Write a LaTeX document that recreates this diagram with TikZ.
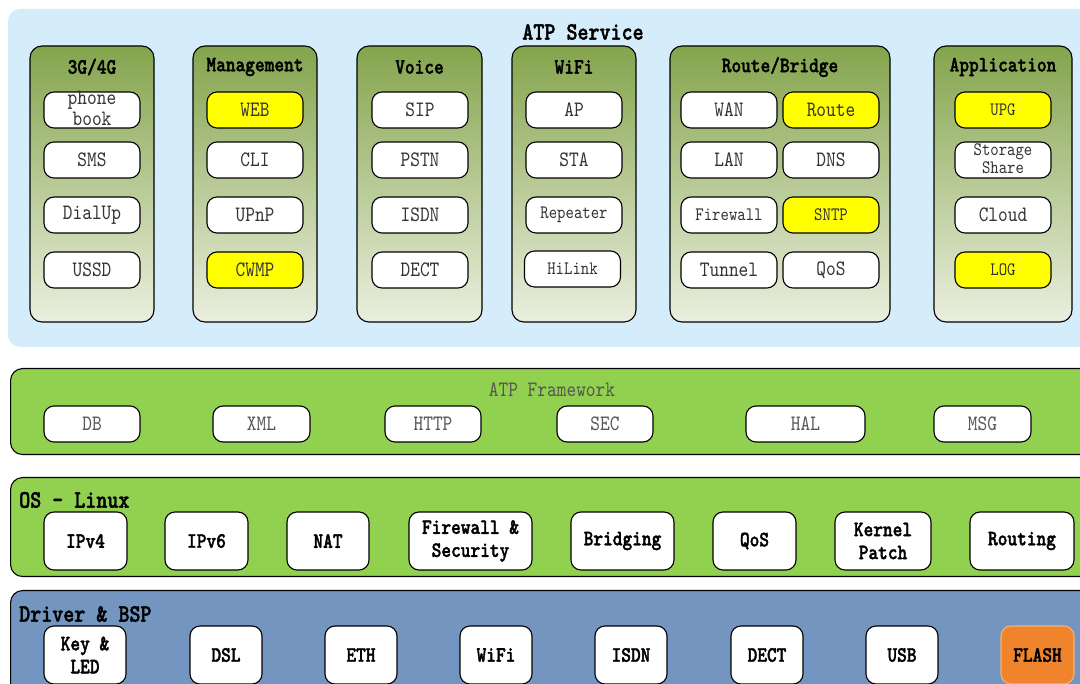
\documentclass[tikz,border=0pt]{standalone}
\usepackage{fontspec}
\newfontfamily\dfont[BoldFont=lmmonolt10-bold.otf, BoldFeatures={FakeBold=1.6}, FakeStretch=0.84]{lmmono10-regular.otf}
\definecolor{svcbg}{HTML}{D5ECFB}
\definecolor{paneltop}{HTML}{84A44C}
\definecolor{panelbot}{HTML}{EBEFDF}
\definecolor{barGreen}{HTML}{92D050}
\definecolor{barBlue}{HTML}{7395C0}
\definecolor{hlyellow}{HTML}{FFFF00}
\definecolor{flashfill}{HTML}{F0842C}
\definecolor{flashline}{HTML}{F5B27A}
\definecolor{itemtxt}{HTML}{333333}
\definecolor{fwtxt}{HTML}{555555}
\tikzset{
  pill/.style={draw=black, line width=1.1pt, rounded corners=10pt, fill=white,
    inner sep=0pt, font=\dfont\fontsize{22}{24}\selectfont, text=itemtxt,
    minimum height=36pt, minimum width=96pt},
  hl/.style={fill=hlyellow},
  smalltxt/.style={font=\dfont\fontsize{19}{21}\selectfont},
  panel/.style={draw=black, line width=1.1pt, rounded corners=12pt,
    top color=paneltop, bottom color=panelbot, inner sep=0pt,
    minimum height=276pt},
  ptitle/.style={font=\dfont\bfseries\fontsize{22}{24}\selectfont, inner sep=0pt},
  bar/.style={draw=black, line width=1.1pt, rounded corners=12pt, inner sep=0pt,
    minimum width=1100pt, anchor=north west},
  bartitle/.style={font=\dfont\bfseries\fontsize{25}{28}\selectfont, inner sep=0pt, anchor=west},
  fwpill/.style={pill, text=fwtxt},
  bigpill/.style={draw=black, line width=1.1pt, rounded corners=10pt, fill=white,
    inner sep=0pt, text=black, align=center, minimum height=58pt,
    font=\dfont\bfseries\fontsize{22}{23}\selectfont},
}
\begin{document}
\begin{tikzpicture}[x=1pt, y=-1pt]
\useasboundingbox (0,0) rectangle (1080,684);
\clip (0,0) rectangle (1080,684);
\fill[white] (0,0) rectangle (1080,684);

% ---------------- ATP Service ----------------
\fill[svcbg, rounded corners=12pt] (8,9) rectangle (1110,347);
\node[font=\dfont\bfseries\fontsize{25}{28}\selectfont, inner sep=0pt] (svc) at (583,32) {ATP Service};

% 3G/4G
\node[panel, minimum width=124pt] (p3g) at (92,184) {};
\node[ptitle] (t3g) at (92,67) {3G/4G};
\node[pill] (pb) at (92,110) {\raisebox{-5pt}[0pt][0pt]{\begin{tabular}{@{}c@{}}phone\\[-3pt]book\end{tabular}}};
\node[pill] (sms) at (92,160) {SMS};
\node[pill] (dial) at (92,215) {DialUp};
\node[pill] (ussd) at (92,270) {USSD};

% Management
\node[panel, minimum width=124pt] (pmg) at (255,184) {};
\node[ptitle] (tmg) at (255,67) {Management};
\node[pill, hl] (web) at (255,110) {WEB};
\node[pill] (cli) at (255,160) {CLI};
\node[pill] (upnp) at (255,215) {UPnP};
\node[pill, hl] (cwmp) at (255,270) {CWMP};

% Voice
\node[panel, minimum width=125pt] (pvo) at (419.5,184) {};
\node[ptitle] (tvo) at (419.5,67) {Voice};
\node[pill] (sip) at (420,110) {SIP};
\node[pill] (pstn) at (420,160) {PSTN};
\node[pill] (isdn) at (420,215) {ISDN};
\node[pill] (dect) at (420,270) {DECT};

% WiFi
\node[panel, minimum width=124pt] (pwf) at (574,184) {};
\node[ptitle] (twf) at (574,67) {WiFi};
\node[pill] (ap) at (574,110) {AP};
\node[pill] (sta) at (574,160) {STA};
\node[pill, smalltxt] (rep) at (574,215) {Repeater};
\node[pill, smalltxt] (hil) at (572.5,269) {HiLink};

% Route/Bridge
\node[panel, minimum width=220pt] (prb) at (780,184) {};
\node[ptitle] (trb) at (780,67) {Route/Bridge};
\node[pill] (wan) at (729,110) {WAN};
\node[pill, hl] (route) at (831,110) {Route};
\node[pill] (lan) at (729,160) {LAN};
\node[pill] (dns) at (831,160) {DNS};
\node[pill, smalltxt] (fw) at (729,215) {Firewall};
\node[pill, hl, smalltxt] (sntp) at (831,215) {SNTP};
\node[pill] (tun) at (729,270) {Tunnel};
\node[pill] (qos) at (831,270) {QoS};

% Application
\node[panel, minimum width=138pt] (pap) at (1003,184) {};
\node[ptitle] (tap) at (1003,67) {Application};
\node[pill, hl, smalltxt] (upg) at (1003,110) {UPG};
\node[pill, smalltxt] (stor) at (1003,160) {\raisebox{-5pt}[0pt][0pt]{\begin{tabular}{@{}c@{}}Storage\\[-3pt]Share\end{tabular}}};
\node[pill] (cloud) at (1003,215) {Cloud};
\node[pill, hl, smalltxt] (log) at (1003,270) {LOG};

% ---------------- ATP Framework ----------------
\node[bar, fill=barGreen, minimum height=86pt] (fwbar) at (10,368) {};
\node[font=\dfont\fontsize{22}{24}\selectfont, text=fwtxt, inner sep=0pt] (fwt) at (552,390) {ATP Framework};
\node[fwpill] (db) at (92,424) {DB};
\node[fwpill, minimum width=97pt] (xml) at (261.5,424) {XML};
\node[fwpill] (http) at (433,424) {HTTP};
\node[fwpill] (sec) at (605,424) {SEC};
\node[fwpill, minimum width=119pt] (hal) at (805.5,424) {HAL};
\node[fwpill, minimum width=97pt] (msg) at (982.5,424) {MSG};

% ---------------- OS - Linux ----------------
\node[bar, fill=barGreen, minimum height=99pt] (osbar) at (10,477) {};
\node[bartitle] (ost) at (19,500) {OS - Linux};
\node[bigpill, minimum width=83pt] (ipv4) at (85.5,541) {IPv4};
\node[bigpill, minimum width=83pt] (ipv6) at (206.5,541) {IPv6};
\node[bigpill, minimum width=82pt] (nat) at (328,541) {NAT};
\node[bigpill, minimum width=123pt] (fws) at (470.5,541) {Firewall \&\\Security};
\node[bigpill, minimum width=103pt] (brg) at (622.5,541) {Bridging};
\node[bigpill, minimum width=83pt] (oqos) at (754.5,541) {QoS};
\node[bigpill, minimum width=96pt] (kp) at (883,541) {Kernel\\Patch};
\node[bigpill, minimum width=104pt] (rtg) at (1022,541) {Routing};

% ---------------- Driver & BSP ----------------
\node[bar, fill=barBlue, minimum height=120pt] (drbar) at (10,590) {};
\node[bartitle] (drt) at (19,614) {Driver \& BSP};
\node[bigpill, minimum width=82pt] (key) at (85,655) {Key \&\\LED};
\node[bigpill, minimum width=72pt] (dsl) at (226,655) {DSL};
\node[bigpill, minimum width=72pt] (eth) at (361,655) {ETH};
\node[bigpill, minimum width=72pt] (dwifi) at (496,655) {WiFi};
\node[bigpill, minimum width=72pt] (disdn) at (631,655) {ISDN};
\node[bigpill, minimum width=72pt] (ddect) at (767,655) {DECT};
\node[bigpill, minimum width=72pt] (usb) at (902,655) {USB};
\node[bigpill, minimum width=73pt, fill=flashfill, draw=flashline] (flash) at (1037.5,655) {FLASH};
\end{tikzpicture}
\end{document}
